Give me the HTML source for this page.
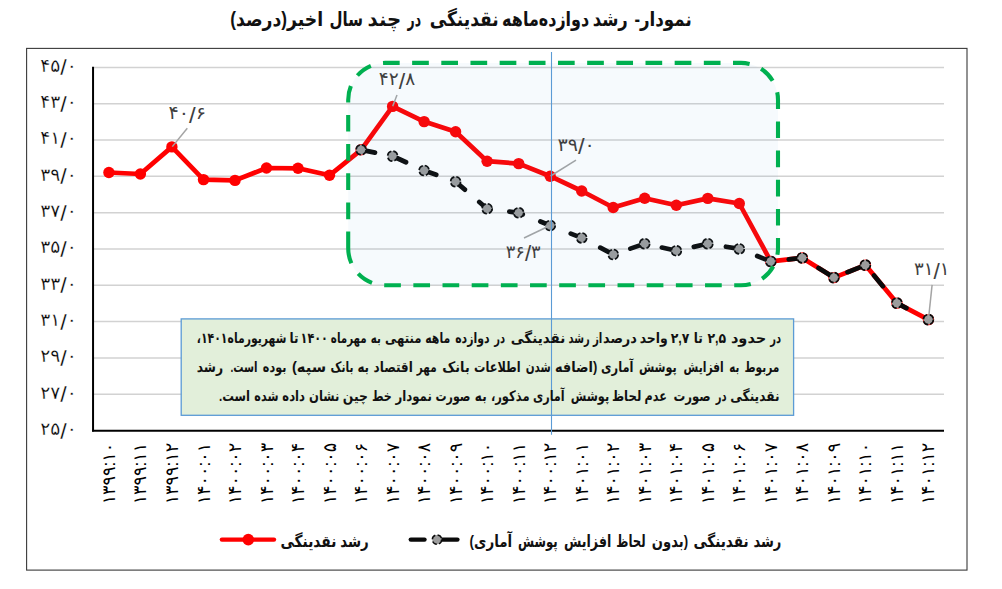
<!DOCTYPE html>
<html lang="fa">
<head>
<meta charset="utf-8">
<title>نمودار رشد دوازده‌ماهه نقدینگی</title>
<style>
html,body{margin:0;padding:0;background:#fff}
body{width:1002px;height:589px;overflow:hidden}
svg{display:block}
text{font-family:'Liberation Sans','DejaVu Sans',sans-serif}
.rtl{direction:rtl;unicode-bidi:plaintext}
</style>
</head>
<body>
<svg width="1002" height="589" viewBox="0 0 1002 589">
<rect x="0" y="0" width="1002" height="589" fill="#fff"/>
<rect x="26.6" y="48.4" width="940.4" height="521.7" fill="#fff" stroke="#3a3a3a" stroke-width="1.1"/>
<g stroke="#d2d2d2" stroke-width="1.5">
<line x1="94" x2="944" y1="67.40" y2="67.40"/>
<line x1="94" x2="944" y1="103.71" y2="103.71"/>
<line x1="94" x2="944" y1="140.02" y2="140.02"/>
<line x1="94" x2="944" y1="176.33" y2="176.33"/>
<line x1="94" x2="944" y1="212.64" y2="212.64"/>
<line x1="94" x2="944" y1="248.95" y2="248.95"/>
<line x1="94" x2="944" y1="285.26" y2="285.26"/>
<line x1="94" x2="944" y1="321.57" y2="321.57"/>
<line x1="94" x2="944" y1="357.88" y2="357.88"/>
<line x1="94" x2="944" y1="394.19" y2="394.19"/>
</g>
<line x1="93.05" x2="93.05" y1="66.8" y2="431.6" stroke="#000" stroke-width="2"/>
<line x1="92.05" x2="944" y1="430.8" y2="430.8" stroke="#000" stroke-width="1.9"/>
<polyline points="108.9,172.5 140.4,174.0 171.9,146.9 203.5,179.6 235.0,180.4 266.5,168.0 298.0,168.3 329.5,175.3 361.1,149.8 392.6,106.4 424.1,121.6 455.6,131.8 487.1,161.2 518.7,163.6 550.2,176.2 581.7,191.0 613.2,207.5 644.7,198.2 676.3,205.3 707.8,198.4 739.3,203.5 770.8,261.4 802.3,257.9 833.9,277.6 865.4,265.1 896.9,303.1 928.4,319.6" fill="none" stroke="#ff0000" stroke-width="4.7" stroke-linejoin="round" stroke-linecap="round"/>
<g fill="#ff0000">
<circle cx="108.9" cy="172.5" r="5.7"/>
<circle cx="140.4" cy="174.0" r="5.7"/>
<circle cx="171.9" cy="146.9" r="5.7"/>
<circle cx="203.5" cy="179.6" r="5.7"/>
<circle cx="235.0" cy="180.4" r="5.7"/>
<circle cx="266.5" cy="168.0" r="5.7"/>
<circle cx="298.0" cy="168.3" r="5.7"/>
<circle cx="329.5" cy="175.3" r="5.7"/>
<circle cx="361.1" cy="149.8" r="5.7"/>
<circle cx="392.6" cy="106.4" r="5.7"/>
<circle cx="424.1" cy="121.6" r="5.7"/>
<circle cx="455.6" cy="131.8" r="5.7"/>
<circle cx="487.1" cy="161.2" r="5.7"/>
<circle cx="518.7" cy="163.6" r="5.7"/>
<circle cx="550.2" cy="176.2" r="5.7"/>
<circle cx="581.7" cy="191.0" r="5.7"/>
<circle cx="613.2" cy="207.5" r="5.7"/>
<circle cx="644.7" cy="198.2" r="5.7"/>
<circle cx="676.3" cy="205.3" r="5.7"/>
<circle cx="707.8" cy="198.4" r="5.7"/>
<circle cx="739.3" cy="203.5" r="5.7"/>
<circle cx="770.8" cy="261.4" r="5.7"/>
<circle cx="802.3" cy="257.9" r="5.7"/>
<circle cx="833.9" cy="277.6" r="5.7"/>
<circle cx="865.4" cy="265.1" r="5.7"/>
<circle cx="896.9" cy="303.1" r="5.7"/>
<circle cx="928.4" cy="319.6" r="5.7"/>
</g>
<polyline points="361.1,149.8 392.6,156.1 424.1,170.5 455.6,181.7 487.1,208.7 518.7,212.8 550.2,225.5 581.7,237.9 613.2,254.5 644.7,243.7 676.3,250.8 707.8,243.7 739.3,248.9 770.8,261.4 802.3,257.9 833.9,277.6 865.4,265.1 896.9,303.1 914.2,312.2" fill="none" stroke="#0a0a0a" stroke-width="4.7" stroke-linejoin="round" stroke-linecap="round" stroke-dasharray="13.8 18.95" stroke-dashoffset="-0.35"/>
<g fill="#9c9c9c" stroke="#0a0a0a" stroke-width="1.6" stroke-dasharray="5.8 2.1">
<circle cx="361.1" cy="149.8" r="5.0"/>
<circle cx="392.6" cy="156.1" r="5.0"/>
<circle cx="424.1" cy="170.5" r="5.0"/>
<circle cx="455.6" cy="181.7" r="5.0"/>
<circle cx="487.1" cy="208.7" r="5.0"/>
<circle cx="518.7" cy="212.8" r="5.0"/>
<circle cx="550.2" cy="225.5" r="5.0"/>
<circle cx="581.7" cy="237.9" r="5.0"/>
<circle cx="613.2" cy="254.5" r="5.0"/>
<circle cx="644.7" cy="243.7" r="5.0"/>
<circle cx="676.3" cy="250.8" r="5.0"/>
<circle cx="707.8" cy="243.7" r="5.0"/>
<circle cx="739.3" cy="248.9" r="5.0"/>
<circle cx="770.8" cy="261.4" r="5.0"/>
<circle cx="802.3" cy="257.9" r="5.0"/>
<circle cx="833.9" cy="277.6" r="5.0"/>
<circle cx="865.4" cy="265.1" r="5.0"/>
<circle cx="896.9" cy="303.1" r="5.0"/>
<circle cx="928.4" cy="319.6" r="5.0"/>
</g>
<g stroke="#a4a4a4" stroke-width="1.5">
<line x1="187.3" y1="128.2" x2="172.3" y2="146.6"/>
<line x1="397.0" y1="95.0" x2="392.7" y2="106.2"/>
<line x1="576.0" y1="160.2" x2="550.6" y2="176.0"/>
<line x1="524.0" y1="238.0" x2="549.6" y2="225.8"/>
<line x1="932.1" y1="284.9" x2="928.5" y2="319.0"/>
</g>
<path d="M348.2,248.3 L348.2,99.9 A37,37 0 0 1 385.2,62.9 L741.0,62.9 A37,37 0 0 1 778.0,99.9 L778.0,248.3 A37,37 0 0 1 741.0,285.3 L385.2,285.3 A37,37 0 0 1 348.2,248.3 Z" fill="rgba(91,155,213,0.055)" stroke="#00b050" stroke-width="4.1" stroke-dasharray="16.7 12.47" stroke-dashoffset="0"/>
<rect x="181.2" y="318.9" width="612.4" height="96.4" fill="#e2efda" stroke="#5b9bd5" stroke-width="1.3"/>
<line x1="551.5" x2="551.5" y1="52" y2="434.7" stroke="#5b9bd5" stroke-width="1.1"/>
<line x1="221.9" x2="274" y1="539.6" y2="539.6" stroke="#ff0000" stroke-width="4.4" stroke-linecap="round"/>
<circle cx="248.3" cy="539.6" r="5.8" fill="#ff0000"/>
<line x1="410.8" x2="424.5" y1="539.6" y2="539.6" stroke="#0a0a0a" stroke-width="4.4" stroke-linecap="round"/>
<line x1="442" x2="457.4" y1="539.6" y2="539.6" stroke="#0a0a0a" stroke-width="4.4" stroke-linecap="round"/>
<circle cx="437" cy="539.6" r="4.7" fill="#9c9c9c" stroke="#0a0a0a" stroke-width="1.5" stroke-dasharray="5 2.4"/>
<text transform="translate(663.07,25.8) scale(0.8343,1.0)" text-anchor="middle" font-size="20" font-weight="bold" fill="#111" class="rtl">نمودار-</text>
<text transform="translate(610.25,25.8) scale(0.8225,1.0)" text-anchor="middle" font-size="20" font-weight="bold" fill="#111" class="rtl">رشد</text>
<text transform="translate(545.65,25.8) scale(0.7991,1.0)" text-anchor="middle" font-size="20" font-weight="bold" fill="#111" class="rtl">دوازده‌ماهه</text>
<text transform="translate(464.23,25.8) scale(0.8532,1.0)" text-anchor="middle" font-size="20" font-weight="bold" fill="#111" class="rtl">نقدینگی</text>
<text transform="translate(414.27,25.8) scale(0.6200,1.0)" text-anchor="middle" font-size="20" font-weight="bold" fill="#111" class="rtl">در</text>
<text transform="translate(384.35,25.8) scale(0.9906,1.0)" text-anchor="middle" font-size="20" font-weight="bold" fill="#111" class="rtl">چند</text>
<text transform="translate(346.25,25.8) scale(0.7500,1.0)" text-anchor="middle" font-size="20" font-weight="bold" fill="#111" class="rtl">سال</text>
<text transform="translate(276.65,25.8) scale(0.8613,1.0)" text-anchor="middle" font-size="20" font-weight="bold" fill="#111" class="rtl">اخیر(درصد)</text>
<text transform="translate(58.40,71.8) scale(1.0355,1.0)" text-anchor="middle" font-size="18" fill="#000" stroke="#fff" stroke-width="0.25">۴۵<tspan font-size="22.5" dy="3.6">/</tspan><tspan dy="-3.6">۰</tspan></text>
<text transform="translate(58.40,108.1) scale(1.0355,1.0)" text-anchor="middle" font-size="18" fill="#000" stroke="#fff" stroke-width="0.25">۴۳<tspan font-size="22.5" dy="3.6">/</tspan><tspan dy="-3.6">۰</tspan></text>
<text transform="translate(58.40,144.4) scale(1.0355,1.0)" text-anchor="middle" font-size="18" fill="#000" stroke="#fff" stroke-width="0.25">۴۱<tspan font-size="22.5" dy="3.6">/</tspan><tspan dy="-3.6">۰</tspan></text>
<text transform="translate(58.40,180.7) scale(1.0355,1.0)" text-anchor="middle" font-size="18" fill="#000" stroke="#fff" stroke-width="0.25">۳۹<tspan font-size="22.5" dy="3.6">/</tspan><tspan dy="-3.6">۰</tspan></text>
<text transform="translate(58.40,217.0) scale(1.0355,1.0)" text-anchor="middle" font-size="18" fill="#000" stroke="#fff" stroke-width="0.25">۳۷<tspan font-size="22.5" dy="3.6">/</tspan><tspan dy="-3.6">۰</tspan></text>
<text transform="translate(58.40,253.4) scale(1.0355,1.0)" text-anchor="middle" font-size="18" fill="#000" stroke="#fff" stroke-width="0.25">۳۵<tspan font-size="22.5" dy="3.6">/</tspan><tspan dy="-3.6">۰</tspan></text>
<text transform="translate(58.40,289.7) scale(1.0355,1.0)" text-anchor="middle" font-size="18" fill="#000" stroke="#fff" stroke-width="0.25">۳۳<tspan font-size="22.5" dy="3.6">/</tspan><tspan dy="-3.6">۰</tspan></text>
<text transform="translate(58.40,326.0) scale(1.0355,1.0)" text-anchor="middle" font-size="18" fill="#000" stroke="#fff" stroke-width="0.25">۳۱<tspan font-size="22.5" dy="3.6">/</tspan><tspan dy="-3.6">۰</tspan></text>
<text transform="translate(58.40,362.3) scale(1.0355,1.0)" text-anchor="middle" font-size="18" fill="#000" stroke="#fff" stroke-width="0.25">۲۹<tspan font-size="22.5" dy="3.6">/</tspan><tspan dy="-3.6">۰</tspan></text>
<text transform="translate(58.40,398.6) scale(1.0355,1.0)" text-anchor="middle" font-size="18" fill="#000" stroke="#fff" stroke-width="0.25">۲۷<tspan font-size="22.5" dy="3.6">/</tspan><tspan dy="-3.6">۰</tspan></text>
<text transform="translate(58.40,434.9) scale(1.0355,1.0)" text-anchor="middle" font-size="18" fill="#000" stroke="#fff" stroke-width="0.25">۲۵<tspan font-size="22.5" dy="3.6">/</tspan><tspan dy="-3.6">۰</tspan></text>
<text transform="translate(187.18,119.3) scale(1.0636,1.0)" text-anchor="middle" font-size="18" fill="#404040">۴۰<tspan font-size="22.5" dy="3.6">/</tspan><tspan dy="-3.6">۶</tspan></text>
<text transform="translate(397.05,85.0) scale(1.0324,1.0)" text-anchor="middle" font-size="18" fill="#404040">۴۲<tspan font-size="22.5" dy="3.6">/</tspan><tspan dy="-3.6">۸</tspan></text>
<text transform="translate(576.19,150.8) scale(1.0581,1.0)" text-anchor="middle" font-size="18" fill="#404040">۳۹<tspan font-size="22.5" dy="3.6">/</tspan><tspan dy="-3.6">۰</tspan></text>
<text transform="translate(523.21,257.8) scale(0.9886,1.0)" text-anchor="middle" font-size="18" fill="#404040">۳۶<tspan font-size="22.5" dy="3.6">/</tspan><tspan dy="-3.6">۳</tspan></text>
<text transform="translate(931.71,275.0) scale(1.0062,1.0)" text-anchor="middle" font-size="18" fill="#404040">۳۱<tspan font-size="22.5" dy="3.6">/</tspan><tspan dy="-3.6">۱</tspan></text>
<text transform="translate(114.9,473.56) rotate(-90) scale(0.9772,1.0)" text-anchor="middle" font-size="18" fill="#000">۱۳۹۹:۱۰</text>
<text transform="translate(146.4,473.56) rotate(-90) scale(0.9772,1.0)" text-anchor="middle" font-size="18" fill="#000">۱۳۹۹:۱۱</text>
<text transform="translate(177.9,473.56) rotate(-90) scale(0.9772,1.0)" text-anchor="middle" font-size="18" fill="#000">۱۳۹۹:۱۲</text>
<text transform="translate(209.5,473.56) rotate(-90) scale(0.9772,1.0)" text-anchor="middle" font-size="18" fill="#000">۱۴۰۰:۰۱</text>
<text transform="translate(241.0,473.56) rotate(-90) scale(0.9772,1.0)" text-anchor="middle" font-size="18" fill="#000">۱۴۰۰:۰۲</text>
<text transform="translate(272.5,473.56) rotate(-90) scale(0.9772,1.0)" text-anchor="middle" font-size="18" fill="#000">۱۴۰۰:۰۳</text>
<text transform="translate(304.0,473.56) rotate(-90) scale(0.9772,1.0)" text-anchor="middle" font-size="18" fill="#000">۱۴۰۰:۰۴</text>
<text transform="translate(335.5,473.56) rotate(-90) scale(0.9772,1.0)" text-anchor="middle" font-size="18" fill="#000">۱۴۰۰:۰۵</text>
<text transform="translate(367.1,473.56) rotate(-90) scale(0.9772,1.0)" text-anchor="middle" font-size="18" fill="#000">۱۴۰۰:۰۶</text>
<text transform="translate(398.6,473.56) rotate(-90) scale(0.9772,1.0)" text-anchor="middle" font-size="18" fill="#000">۱۴۰۰:۰۷</text>
<text transform="translate(430.1,473.56) rotate(-90) scale(0.9772,1.0)" text-anchor="middle" font-size="18" fill="#000">۱۴۰۰:۰۸</text>
<text transform="translate(461.6,473.56) rotate(-90) scale(0.9772,1.0)" text-anchor="middle" font-size="18" fill="#000">۱۴۰۰:۰۹</text>
<text transform="translate(493.1,473.56) rotate(-90) scale(0.9772,1.0)" text-anchor="middle" font-size="18" fill="#000">۱۴۰۰:۱۰</text>
<text transform="translate(524.7,473.56) rotate(-90) scale(0.9772,1.0)" text-anchor="middle" font-size="18" fill="#000">۱۴۰۰:۱۱</text>
<text transform="translate(556.2,473.56) rotate(-90) scale(0.9772,1.0)" text-anchor="middle" font-size="18" fill="#000">۱۴۰۰:۱۲</text>
<text transform="translate(587.7,473.56) rotate(-90) scale(0.9772,1.0)" text-anchor="middle" font-size="18" fill="#000">۱۴۰۱:۰۱</text>
<text transform="translate(619.2,473.56) rotate(-90) scale(0.9772,1.0)" text-anchor="middle" font-size="18" fill="#000">۱۴۰۱:۰۲</text>
<text transform="translate(650.7,473.56) rotate(-90) scale(0.9772,1.0)" text-anchor="middle" font-size="18" fill="#000">۱۴۰۱:۰۳</text>
<text transform="translate(682.3,473.56) rotate(-90) scale(0.9772,1.0)" text-anchor="middle" font-size="18" fill="#000">۱۴۰۱:۰۴</text>
<text transform="translate(713.8,473.56) rotate(-90) scale(0.9772,1.0)" text-anchor="middle" font-size="18" fill="#000">۱۴۰۱:۰۵</text>
<text transform="translate(745.3,473.56) rotate(-90) scale(0.9772,1.0)" text-anchor="middle" font-size="18" fill="#000">۱۴۰۱:۰۶</text>
<text transform="translate(776.8,473.56) rotate(-90) scale(0.9772,1.0)" text-anchor="middle" font-size="18" fill="#000">۱۴۰۱:۰۷</text>
<text transform="translate(808.3,473.56) rotate(-90) scale(0.9772,1.0)" text-anchor="middle" font-size="18" fill="#000">۱۴۰۱:۰۸</text>
<text transform="translate(839.9,473.56) rotate(-90) scale(0.9772,1.0)" text-anchor="middle" font-size="18" fill="#000">۱۴۰۱:۰۹</text>
<text transform="translate(871.4,473.56) rotate(-90) scale(0.9772,1.0)" text-anchor="middle" font-size="18" fill="#000">۱۴۰۱:۱۰</text>
<text transform="translate(902.9,473.56) rotate(-90) scale(0.9772,1.0)" text-anchor="middle" font-size="18" fill="#000">۱۴۰۱:۱۱</text>
<text transform="translate(934.4,473.56) rotate(-90) scale(0.9772,1.0)" text-anchor="middle" font-size="18" fill="#000">۱۴۰۱:۱۲</text>
<text transform="translate(775.72,343.2) scale(0.6200,0.9)" text-anchor="middle" font-size="16" font-weight="bold" fill="#111" class="rtl">در</text>
<text transform="translate(748.61,343.2) scale(0.9108,0.9)" text-anchor="middle" font-size="16" font-weight="bold" fill="#111" class="rtl">حدود</text>
<text transform="translate(716.75,343.2) scale(0.7792,0.9)" text-anchor="middle" font-size="16" font-weight="bold" fill="#111" class="rtl">۲,۵</text>
<text transform="translate(698.35,343.2) scale(0.7500,0.9)" text-anchor="middle" font-size="16" font-weight="bold" fill="#111" class="rtl">تا</text>
<text transform="translate(680.05,343.2) scale(0.7792,0.9)" text-anchor="middle" font-size="16" font-weight="bold" fill="#111" class="rtl">۲,۷</text>
<text transform="translate(653.75,343.2) scale(0.7794,0.9)" text-anchor="middle" font-size="16" font-weight="bold" fill="#111" class="rtl">واحد</text>
<text transform="translate(619.90,343.2) scale(0.8050,0.9)" text-anchor="middle" font-size="16" font-weight="bold" fill="#111" class="rtl">درصد</text>
<text transform="translate(597.64,343.2) scale(0.6429,0.9)" text-anchor="middle" font-size="16" font-weight="bold" fill="#111" class="rtl">از</text>
<text transform="translate(579.10,343.2) scale(0.6200,0.9)" text-anchor="middle" font-size="16" font-weight="bold" fill="#111" class="rtl">رشد</text>
<text transform="translate(537.95,343.2) scale(0.8422,0.9)" text-anchor="middle" font-size="16" font-weight="bold" fill="#111" class="rtl">نقدینگی</text>
<text transform="translate(499.57,343.2) scale(0.6200,0.9)" text-anchor="middle" font-size="16" font-weight="bold" fill="#111" class="rtl">در</text>
<text transform="translate(472.40,343.2) scale(0.6840,0.9)" text-anchor="middle" font-size="16" font-weight="bold" fill="#111" class="rtl">دوازده</text>
<text transform="translate(437.71,343.2) scale(0.6829,0.9)" text-anchor="middle" font-size="16" font-weight="bold" fill="#111" class="rtl">ماهه</text>
<text transform="translate(403.25,343.2) scale(0.7313,0.9)" text-anchor="middle" font-size="16" font-weight="bold" fill="#111" class="rtl">منتهی</text>
<text transform="translate(375.90,343.2) scale(0.6429,0.9)" text-anchor="middle" font-size="16" font-weight="bold" fill="#111" class="rtl">به</text>
<text transform="translate(348.77,343.2) scale(0.6455,0.9)" text-anchor="middle" font-size="16" font-weight="bold" fill="#111" class="rtl">مهرماه</text>
<text transform="translate(314.25,343.2) scale(0.7030,0.9)" text-anchor="middle" font-size="16" font-weight="bold" fill="#111" class="rtl">۱۴۰۰</text>
<text transform="translate(294.05,343.2) scale(0.7500,0.9)" text-anchor="middle" font-size="16" font-weight="bold" fill="#111" class="rtl">تا</text>
<text transform="translate(241.65,343.2) scale(0.6792,0.9)" text-anchor="middle" font-size="16" font-weight="bold" fill="#111" class="rtl">شهریورماه۱۴۰۱،</text>
<text transform="translate(762.00,372.2) scale(0.6640,0.9)" text-anchor="middle" font-size="16" font-weight="bold" fill="#111" class="rtl">مربوط</text>
<text transform="translate(734.30,372.2) scale(0.6429,0.9)" text-anchor="middle" font-size="16" font-weight="bold" fill="#111" class="rtl">به</text>
<text transform="translate(703.65,372.2) scale(0.6707,0.9)" text-anchor="middle" font-size="16" font-weight="bold" fill="#111" class="rtl">افزایش</text>
<text transform="translate(657.80,372.2) scale(0.6962,0.9)" text-anchor="middle" font-size="16" font-weight="bold" fill="#111" class="rtl">پوشش</text>
<text transform="translate(617.24,372.2) scale(0.7156,0.9)" text-anchor="middle" font-size="16" font-weight="bold" fill="#111" class="rtl">آماری</text>
<text transform="translate(576.05,372.2) scale(0.8059,0.9)" text-anchor="middle" font-size="16" font-weight="bold" fill="#111" class="rtl">(اضافه</text>
<text transform="translate(538.22,372.2) scale(0.6486,0.9)" text-anchor="middle" font-size="16" font-weight="bold" fill="#111" class="rtl">شدن</text>
<text transform="translate(497.30,372.2) scale(0.7062,0.9)" text-anchor="middle" font-size="16" font-weight="bold" fill="#111" class="rtl">اطلاعات</text>
<text transform="translate(456.00,372.2) scale(0.7939,0.9)" text-anchor="middle" font-size="16" font-weight="bold" fill="#111" class="rtl">بانک</text>
<text transform="translate(426.70,372.2) scale(0.6500,0.9)" text-anchor="middle" font-size="16" font-weight="bold" fill="#111" class="rtl">مهر</text>
<text transform="translate(393.17,372.2) scale(0.7490,0.9)" text-anchor="middle" font-size="16" font-weight="bold" fill="#111" class="rtl">اقتصاد</text>
<text transform="translate(363.20,372.2) scale(0.7429,0.9)" text-anchor="middle" font-size="16" font-weight="bold" fill="#111" class="rtl">به</text>
<text transform="translate(342.03,372.2) scale(0.6667,0.9)" text-anchor="middle" font-size="16" font-weight="bold" fill="#111" class="rtl">بانک</text>
<text transform="translate(309.00,372.2) scale(0.9167,0.9)" text-anchor="middle" font-size="16" font-weight="bold" fill="#111" class="rtl">سپه)</text>
<text transform="translate(274.60,372.2) scale(0.7000,0.9)" text-anchor="middle" font-size="16" font-weight="bold" fill="#111" class="rtl">بوده</text>
<text transform="translate(243.90,372.2) scale(0.6350,0.9)" text-anchor="middle" font-size="16" font-weight="bold" fill="#111" class="rtl">است.</text>
<text transform="translate(209.85,372.2) scale(0.7719,0.9)" text-anchor="middle" font-size="16" font-weight="bold" fill="#111" class="rtl">رشد</text>
<text transform="translate(754.90,400.9) scale(0.7594,0.9)" text-anchor="middle" font-size="16" font-weight="bold" fill="#111" class="rtl">نقدینگی</text>
<text transform="translate(721.07,400.9) scale(0.6200,0.9)" text-anchor="middle" font-size="16" font-weight="bold" fill="#111" class="rtl">در</text>
<text transform="translate(692.05,400.9) scale(0.7340,0.9)" text-anchor="middle" font-size="16" font-weight="bold" fill="#111" class="rtl">صورت</text>
<text transform="translate(655.70,400.9) scale(0.7000,0.9)" text-anchor="middle" font-size="16" font-weight="bold" fill="#111" class="rtl">عدم</text>
<text transform="translate(626.65,400.9) scale(0.7289,0.9)" text-anchor="middle" font-size="16" font-weight="bold" fill="#111" class="rtl">لحاظ</text>
<text transform="translate(589.90,400.9) scale(0.7075,0.9)" text-anchor="middle" font-size="16" font-weight="bold" fill="#111" class="rtl">پوشش</text>
<text transform="translate(548.80,400.9) scale(0.7000,0.9)" text-anchor="middle" font-size="16" font-weight="bold" fill="#111" class="rtl">آماری</text>
<text transform="translate(510.20,400.9) scale(0.7192,0.9)" text-anchor="middle" font-size="16" font-weight="bold" fill="#111" class="rtl">مذکور،</text>
<text transform="translate(480.75,400.9) scale(0.7500,0.9)" text-anchor="middle" font-size="16" font-weight="bold" fill="#111" class="rtl">به</text>
<text transform="translate(453.00,400.9) scale(0.6880,0.9)" text-anchor="middle" font-size="16" font-weight="bold" fill="#111" class="rtl">صورت</text>
<text transform="translate(413.68,400.9) scale(0.7340,0.9)" text-anchor="middle" font-size="16" font-weight="bold" fill="#111" class="rtl">نمودار</text>
<text transform="translate(381.90,400.9) scale(0.6923,0.9)" text-anchor="middle" font-size="16" font-weight="bold" fill="#111" class="rtl">خط</text>
<text transform="translate(355.39,400.9) scale(0.7742,0.9)" text-anchor="middle" font-size="16" font-weight="bold" fill="#111" class="rtl">چین</text>
<text transform="translate(324.25,400.9) scale(0.7225,0.9)" text-anchor="middle" font-size="16" font-weight="bold" fill="#111" class="rtl">نشان</text>
<text transform="translate(293.65,400.9) scale(0.7233,0.9)" text-anchor="middle" font-size="16" font-weight="bold" fill="#111" class="rtl">داده</text>
<text transform="translate(266.35,400.9) scale(0.7030,0.9)" text-anchor="middle" font-size="16" font-weight="bold" fill="#111" class="rtl">شده</text>
<text transform="translate(234.50,400.9) scale(0.7300,0.9)" text-anchor="middle" font-size="16" font-weight="bold" fill="#111" class="rtl">است.</text>
<text transform="translate(354.45,547.2) scale(0.8088,1.0)" text-anchor="middle" font-size="16.5" font-weight="bold" fill="#111" class="rtl">رشد</text>
<text transform="translate(308.47,547.2) scale(0.8385,1.0)" text-anchor="middle" font-size="16.5" font-weight="bold" fill="#111" class="rtl">نقدینگی</text>
<text transform="translate(767.40,547.2) scale(0.7941,1.0)" text-anchor="middle" font-size="16.5" font-weight="bold" fill="#111" class="rtl">رشد</text>
<text transform="translate(721.06,547.2) scale(0.8292,1.0)" text-anchor="middle" font-size="16.5" font-weight="bold" fill="#111" class="rtl">نقدینگی</text>
<text transform="translate(669.90,547.2) scale(0.7955,1.0)" text-anchor="middle" font-size="16.5" font-weight="bold" fill="#111" class="rtl">(بدون</text>
<text transform="translate(631.00,547.2) scale(0.7100,1.0)" text-anchor="middle" font-size="16.5" font-weight="bold" fill="#111" class="rtl">لحاظ</text>
<text transform="translate(587.55,547.2) scale(0.7650,1.0)" text-anchor="middle" font-size="16.5" font-weight="bold" fill="#111" class="rtl">افزایش</text>
<text transform="translate(537.90,547.2) scale(0.7074,1.0)" text-anchor="middle" font-size="16.5" font-weight="bold" fill="#111" class="rtl">پوشش</text>
<text transform="translate(490.88,547.2) scale(0.8154,1.0)" text-anchor="middle" font-size="16.5" font-weight="bold" fill="#111" class="rtl">آماری)</text>
</svg>
</body>
</html>
